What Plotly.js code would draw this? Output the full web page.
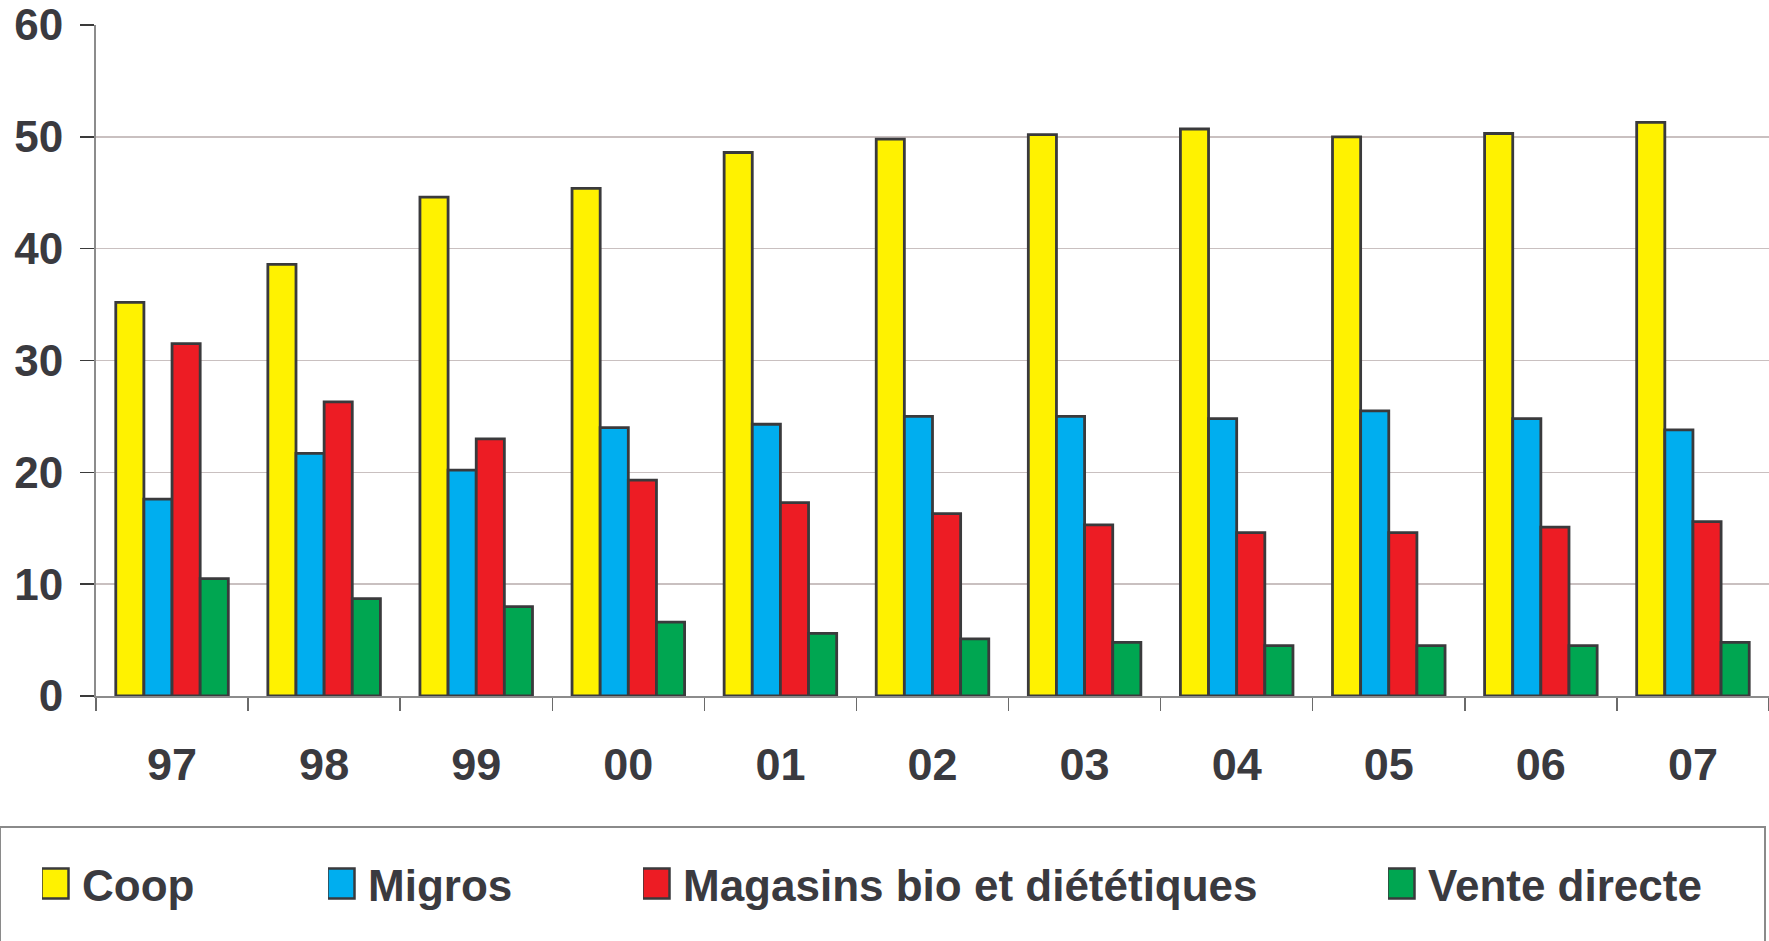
<!DOCTYPE html>
<html>
<head>
<meta charset="utf-8">
<script src="https://cdn.plot.ly/plotly-3.0.1.min.js"></script>
<style>html,body{margin:0;padding:0;background:#fff;}</style>
</head>
<body>
<div id="chart" style="width:1769px;height:941px;"></div>
<script>
var years = ["97","98","99","00","01","02","03","04","05","06","07"];
var seriesNames = ["Coop","Migros","Magasins bio et diététiques","Vente directe"];
var coop    = [35.2, 38.6, 44.6, 45.4, 48.6, 49.8, 50.2, 50.7, 50.0, 50.3, 51.3];
var migros  = [17.6, 21.7, 20.2, 24.0, 24.3, 25.0, 25.0, 24.8, 25.5, 24.8, 23.8];
var magasins= [31.5, 26.3, 23.0, 19.3, 17.3, 16.3, 15.3, 14.6, 14.6, 15.1, 15.6];
var vente   = [10.5, 8.7, 8.0, 6.6, 5.6, 5.1, 4.8, 4.5, 4.5, 4.5, 4.8];
var yTicks = [0, 10, 20, 30, 40, 50, 60];

var colors = ["#FFF200", "#00AEEF", "#ED1C24", "#00A651"];
var values = [coop, migros, magasins, vente];
var legendIds = ["legend", "legend2", "legend3", "legend4"];

var W = 1769, H = 941;
var M = {l: 96, r: 0, t: 25, b: 245};
var pw = W - M.l - M.r, ph = H - M.t - M.b;
function px2x(px) { return (px - M.l) / pw; }
function px2y(py) { return (H - M.b - py) / ph; }

var textColor = "#3a3a3f";
var traces = values.map(function (v, i) {
  return {
    type: "bar",
    x: years,
    y: v,
    name: seriesNames[i],
    legend: legendIds[i],
    showlegend: true,
    marker: {color: colors[i], line: {color: "#3a3a3c", width: 2.8}},
    hoverinfo: "x+y+name"
  };
});

var legendTextStarts = [83, 369, 684, 1429];
var legendFont = {family: "Liberation Sans, Arial, sans-serif", size: 44, color: textColor, weight: "bold"};
var layout = {
  width: W, height: H,
  margin: {l: M.l, r: M.r, t: M.t, b: M.b, pad: 0},
  paper_bgcolor: "#ffffff",
  plot_bgcolor: "#ffffff",
  showlegend: true,
  barmode: "group",
  bargap: 0.26,
  bargroupgap: 0,
  font: {family: "Liberation Sans, Arial, sans-serif", color: textColor},
  xaxis: {
    type: "category",
    range: [-0.5, years.length - 0.5],
    showline: true, linecolor: "#8c8c8c", linewidth: 2,
    ticks: "outside", tickson: "boundaries", ticklen: 13, tickcolor: "#6a6a6a", tickwidth: 1.5,
    tickfont: {size: 45, color: textColor, weight: "bold"},
    ticklabelstandoff: 28,
    showgrid: false, zeroline: false, fixedrange: true
  },
  yaxis: {
    range: [0, 60],
    tickvals: yTicks,
    showline: true, linecolor: "#8c8c8c", linewidth: 2,
    ticks: "outside", ticklen: 14, tickcolor: "#3a3a3a", tickwidth: 1.5,
    tickfont: {size: 44, color: textColor, weight: "bold"},
    ticklabelstandoff: 8,
    ticklabeloverflow: "allow",
    showgrid: true, gridcolor: "#c9c0c0", gridwidth: 1.5,
    zeroline: false, fixedrange: true
  },
  shapes: [{
    type: "rect", xref: "paper", yref: "paper",
    x0: px2x(0), x1: px2x(1765), y0: px2y(827), y1: px2y(980),
    line: {color: "#8a8a8a", width: 2}, fillcolor: "rgba(0,0,0,0)", layer: "below"
  }]
};
legendIds.forEach(function (id, i) {
  layout[id] = {
    x: px2x(legendTextStarts[i] - 41), xanchor: "left",
    y: px2y(884), yanchor: "middle", valign: "middle",
    orientation: "h",
    bgcolor: "rgba(0,0,0,0)", borderwidth: 0,
    font: legendFont
  };
});

Plotly.newPlot("chart", traces, layout, {displayModeBar: false, staticPlot: true}).then(function () {
  document.querySelectorAll(".legendpoints path").forEach(function (p) {
    var t = p.getAttribute("transform") || "";
    p.setAttribute("transform", t + " translate(-7,0) scale(2.25,2.5)");
    p.setAttribute("vector-effect", "non-scaling-stroke");
    p.style.strokeWidth = "2.5px";
    p.style.stroke = "#3a3a3c";
  });
});
</script>
</body>
</html>
